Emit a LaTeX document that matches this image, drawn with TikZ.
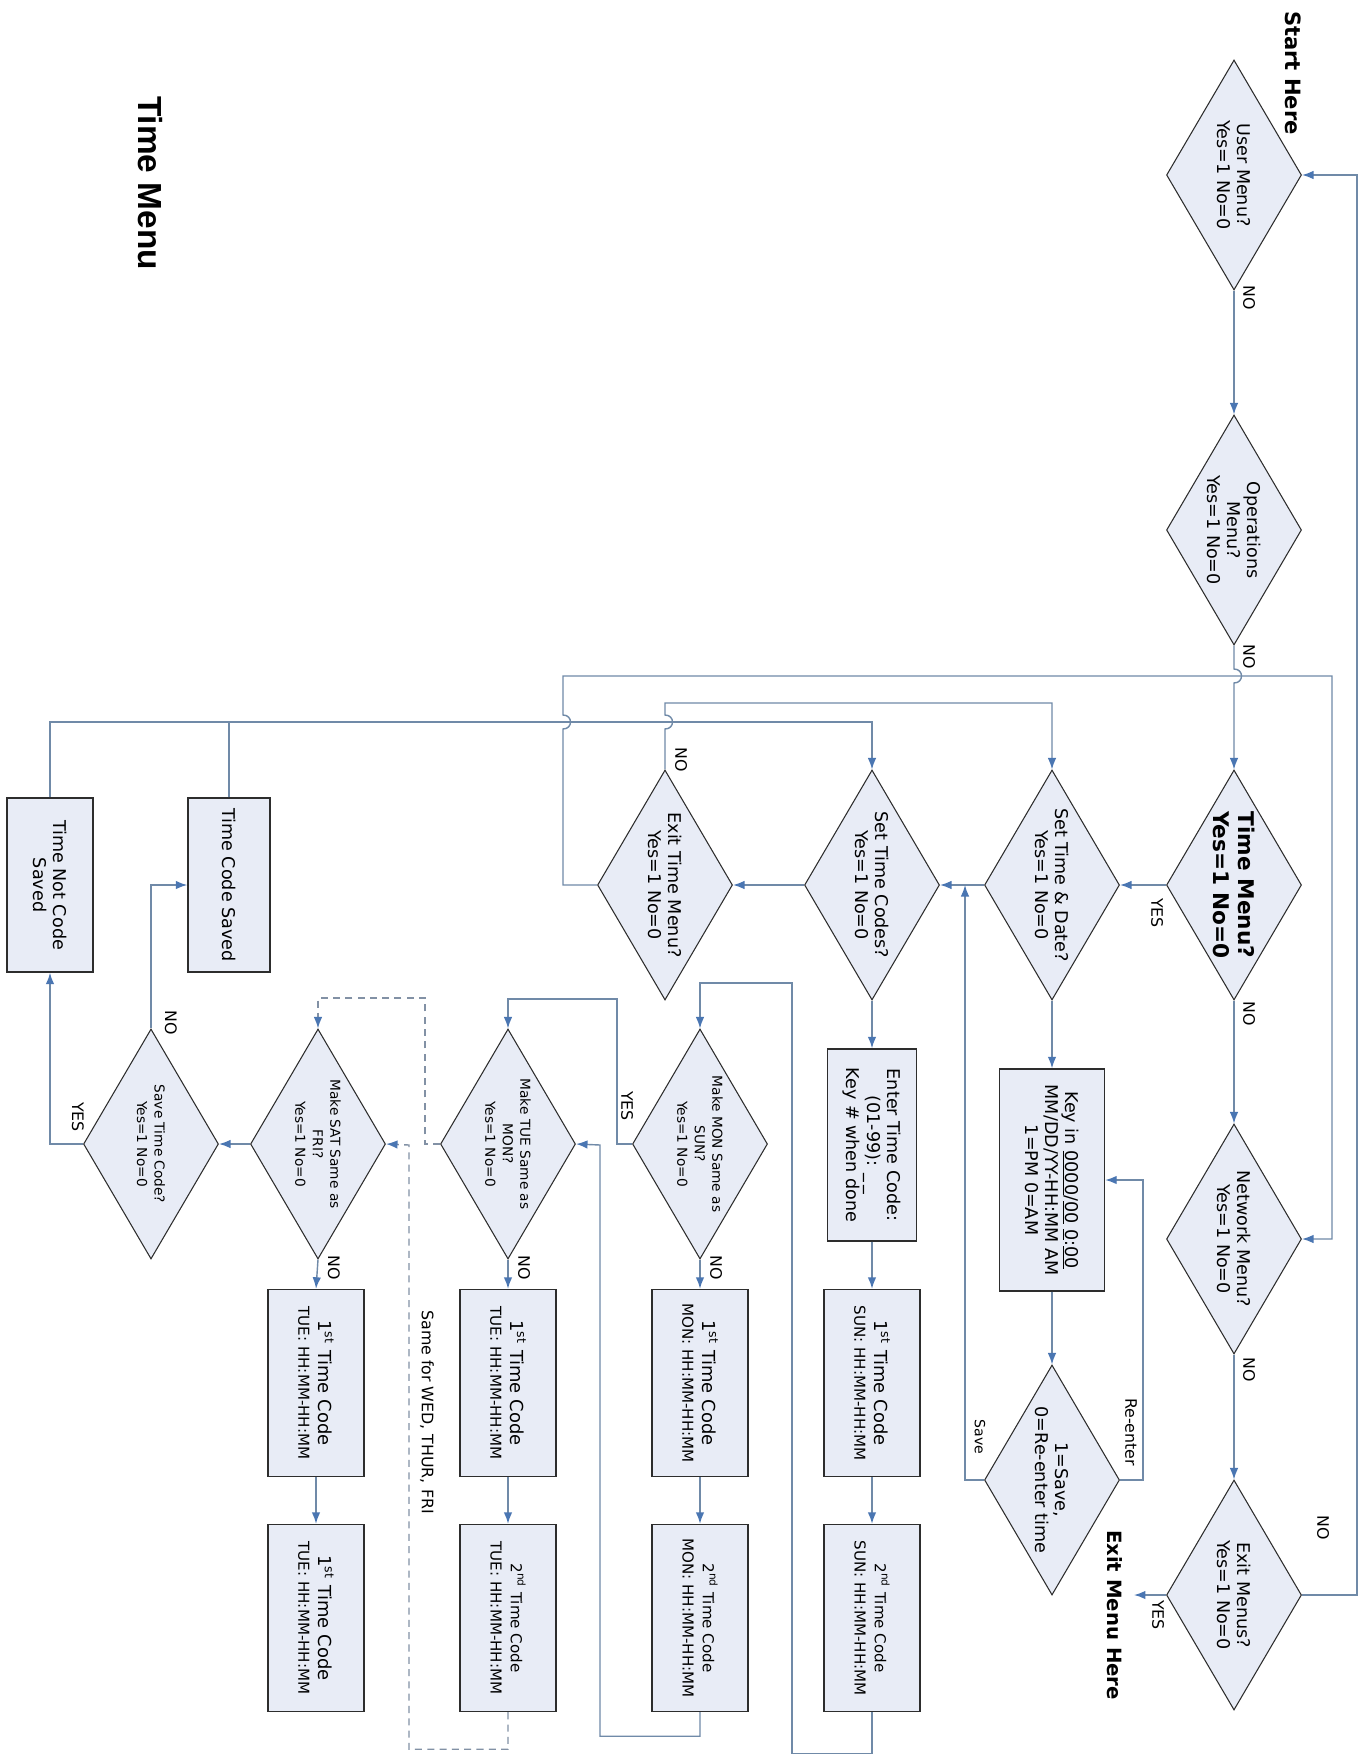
\documentclass[tikz,border=0pt]{standalone}
\usepackage{fontspec}
\setmainfont{DejaVu Sans}
\newfontfamily\myttlfont{Liberation Sans}
\usetikzlibrary{shapes.geometric,arrows.meta,calc}
\definecolor{fillc}{RGB}{232,236,246}
\definecolor{bordc}{RGB}{45,45,45}
\definecolor{linec}{RGB}{112,138,168}
\definecolor{arrc}{RGB}{74,118,178}
\definecolor{dashc}{RGB}{130,145,165}
\newcommand\myfdia{\fontsize{10}{11.5}\selectfont}
\newcommand\myfsmd{\fontsize{7.8}{10}\selectfont}
\newcommand\myfbig{\fontsize{12.3}{14.5}\selectfont\bfseries}
\newcommand\myfone{\fontsize{10.2}{11.5}\selectfont}
\newcommand\myftwo{\fontsize{8.6}{11}\selectfont}
\newcommand\myflab{\fontsize{9}{10}\selectfont}
\tikzset{
  fldia/.style={diamond, draw=bordc, fill=fillc, line width=0.6pt, rotate=-90,
    minimum width=46mm, minimum height=27mm, shape aspect=1.7, inner sep=0pt,
    align=center, font=\myfdia},
  flbox/.style={rectangle, draw=bordc, fill=fillc, line width=0.8pt, rotate=-90,
    inner sep=1pt, align=center, font=\myfdia},
  tbox/.style={flbox, minimum width=37.4mm, minimum height=19.2mm},
  flconn/.style={draw=linec, line width=0.8pt},
  flarr/.style={flconn, -{Latex[length=2.3mm,width=1.7mm,color=arrc]}},
  fldarr/.style={draw=dashc, line width=0.8pt, dash pattern=on 4pt off 3pt,
    -{Latex[length=2.3mm,width=1.7mm,color=arrc]}},
  fllbl/.style={rotate=-90, font=\myflab, inner sep=0pt},
}
\begin{document}
\begin{tikzpicture}[x=0.2mm,y=-0.2mm]
\fill[white] (0,0) rectangle (1371,1756);
\useasboundingbox (0,0) rectangle (1371,1756);

% titles
\node[rotate=-90, font=\bfseries\fontsize{12}{14}\selectfont] (sh) at (1293,73) {Start Here};
\node[rotate=-90, font=\myttlfont\bfseries\fontsize{19}{22}\selectfont] (tt) at (150,183) {Time Menu};
\node[rotate=-90, font=\bfseries\fontsize{11.2}{13}\selectfont] (emh) at (1115,1615) {Exit Menu Here};
\node[rotate=-90, font=\fontsize{9}{11}\selectfont] (same) at (427,1412) {Same for WED, THUR, FRI};

% diamonds
\node[fldia] (um) at (1234,175) {User Menu?\\Yes=1 No=0};
\node[fldia] (op) at (1234,530) {Operations\\Menu?\\Yes=1 No=0};
\node[fldia, font=\myfbig] (tm) at (1234,885) {Time Menu?\\Yes=1 No=0};
\node[fldia] (nm) at (1234,1239) {Network Menu?\\Yes=1 No=0};
\node[fldia] (em) at (1234,1595) {Exit Menus?\\Yes=1 No=0};
\node[fldia] (std) at (1052,885) {Set Time \& Date?\\Yes=1 No=0};
\node[fldia] (stc) at (872,885) {Set Time Codes?\\Yes=1 No=0};
\node[fldia] (etm) at (665,885) {Exit Time Menu?\\Yes=1 No=0};
\node[fldia] (rs) at (1052,1480) {1=Save,\\0=Re-enter time};
\node[fldia, font=\myfsmd] (mon) at (700,1144) {Make MON Same as\\SUN?\\Yes=1 No=0};
\node[fldia, font=\myfsmd] (tue) at (508,1144) {Make TUE Same as\\MON?\\Yes=1 No=0};
\node[fldia, font=\myfsmd] (sat) at (318,1144) {Make SAT Same as\\FRI?\\Yes=1 No=0};
\node[fldia, font=\myfsmd] (sav) at (151,1144) {Save Time Code?\\Yes=1 No=0};

% boxes
\node[flbox, minimum width=44.4mm, minimum height=21mm] (key) at (1052,1180)
  {Key in \underline{0000}/\underline{00}\ \underline{0}:\underline{00}\\MM/DD/YY-HH:MM AM\\1=PM 0=AM};
\node[flbox, minimum width=38.4mm, minimum height=17.8mm] (ent) at (872,1145)
  {Enter Time Code:\\(01-99): \_\,\_\\Key \# when done};
\node[tbox] (sun1) at (872,1383) {\myfone 1\textsuperscript{st} Time Code\\\myftwo SUN: HH:MM-HH:MM};
\node[tbox] (sun2) at (872,1618) {\myftwo 2\textsuperscript{nd} Time Code\\\myftwo SUN: HH:MM-HH:MM};
\node[tbox] (mon1) at (700,1383) {\myfone 1\textsuperscript{st} Time Code\\\myftwo MON: HH:MM-HH:MM};
\node[tbox] (mon2) at (700,1618) {\myftwo 2\textsuperscript{nd} Time Code\\\myftwo MON: HH:MM-HH:MM};
\node[tbox] (tue1) at (508,1383) {\myfone 1\textsuperscript{st} Time Code\\\myftwo TUE: HH:MM-HH:MM};
\node[tbox] (tue2) at (508,1618) {\myftwo 2\textsuperscript{nd} Time Code\\\myftwo TUE: HH:MM-HH:MM};
\node[tbox] (sat1) at (316,1383) {\myfone 1\textsuperscript{st} Time Code\\\myftwo TUE: HH:MM-HH:MM};
\node[tbox] (sat2) at (316,1618) {\myfone 1\textsuperscript{st} Time Code\\\myftwo TUE: HH:MM-HH:MM};
\node[flbox, minimum width=34.8mm, minimum height=16.4mm] (tcs) at (229,885) {Time Code Saved};
\node[flbox, minimum width=34.8mm, minimum height=17.2mm] (tncs) at (50,885) {Time Not Code\\Saved};

% helper coordinates
\coordinate (ox) at (1357,0);
\coordinate (h1) at (1234,676);
\coordinate (a1) at (563,885);
\coordinate (a2) at (563,722);
\coordinate (a4) at (563,676);
\coordinate (a5) at (1332,676);
\coordinate (b2) at (665,722);
\coordinate (b3) at (665,703);
\coordinate (L) at (0,722);
\coordinate (rx) at (1143,1180);
\coordinate (sx) at (965,885);
\coordinate (sq) at (792,983);
\coordinate (ye) at (617,999);
\coordinate (mq) at (600,1145);
\coordinate (dq) at (409,1145);
\coordinate (dr) at (425,998);

% main column
\draw[flarr] (um.east) -- (op.west);
\draw[flarr] (op.east) -- ($(h1)+(0,-7)$) .. controls +(10,0) and +(10,0) .. ($(h1)+(0,7)$) -- (tm.west);
\draw[flarr] (tm.east) -- (nm.west);
\draw[flarr] (nm.east) -- (em.west);
\draw[flarr] (em.north) -- (em.north -| ox) -- (um.north -| ox) -- (um.north);
\draw[flarr] (em.south) -- ++(-32,0);
\draw[flarr] (tm.south) -- (std.north);

% set time & date
\draw[flarr] (std.south) -- (stc.north);
\draw[flarr] (std.east) -- (key.west);
\draw[flarr] (key.east) -- (rs.west);
\draw[flarr] (rs.north) -| (rx) -- (key.north);
\draw[flarr] (rs.south) -| (sx);

% set time codes
\draw[flarr] (stc.east) -- (ent.west);
\draw[flarr] (ent.east) -- (sun1.west);
\draw[flarr] (sun1.east) -- (sun2.west);
\draw[flarr] (sun2.east) -- ++(0,41) -| (sq) -| (mon.west);
\draw[flarr] (stc.south) -- (etm.north);

% exit time menu
\draw[flarr] (etm.west) -- ($(b2)+(0,7)$) .. controls +(10,0) and +(10,0) .. ($(b2)+(0,-7)$) -- (b3) -| (std.west);
\draw[flarr] (etm.south) -- (a1) -- ($(a2)+(0,7)$) .. controls +(10,0) and +(10,0) .. ($(a2)+(0,-7)$) -- (a4) -- (a5) |- (nm.north);

% saved boxes back to set time codes
\draw[flarr] (tncs.west) -- (tncs.west |- L) -| (stc.west);
\draw[flconn] (tcs.west) -- (tcs.west |- L);

% MON
\draw[flarr] (mon.east) -- (mon1.west);
\draw[flarr] (mon1.east) -- (mon2.west);
\draw[flarr] (mon.south) -| (ye) -| (tue.west);
\draw[flarr] (mon2.east) -- ++(0,24) -| (mq) -- (tue.north);

% TUE
\draw[flarr] (tue.east) -- (tue1.west);
\draw[flarr] (tue1.east) -- (tue2.west);
\draw[fldarr] (tue2.east) -- ++(0,37) -| (dq) -- (sat.north);
\draw[fldarr] (tue.south) -| (dr) -| (sat.west);

% SAT
\draw[flarr] (sat.east) -- (sat1.west);
\draw[flarr] (sat1.east) -- (sat2.west);
\draw[flarr] (sat.south) -- (sav.north);

% save
\draw[flarr] (sav.west) |- (tcs.south);
\draw[flarr] (sav.south) -| (tncs.east);

% labels
\node[fllbl] at (1249,298) {NO};
\node[fllbl] at (1249,657) {NO};
\node[fllbl] at (1157,913) {YES};
\node[fllbl] at (1249,1014) {NO};
\node[fllbl] at (1249,1370) {NO};
\node[fllbl] at (1323,1528) {NO};
\node[fllbl] at (1158,1615) {YES};
\node[fllbl] at (1131,1432) {Re-enter};
\node[fllbl, font=\fontsize{8}{9}\selectfont] at (980,1437) {Save};
\node[fllbl] at (681,760) {NO};
\node[fllbl] at (627,1106) {YES};
\node[fllbl] at (716,1268) {NO};
\node[fllbl] at (524,1268) {NO};
\node[fllbl] at (334,1268) {NO};
\node[fllbl] at (171,1023) {NO};
\node[fllbl] at (78,1117) {YES};
\end{tikzpicture}
\end{document}
